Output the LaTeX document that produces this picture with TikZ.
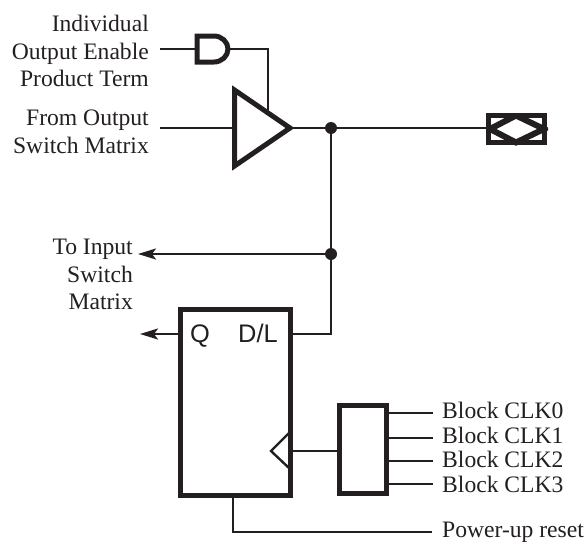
\documentclass[tikz,border=0pt]{standalone}
\usepackage{fontspec}
\setmainfont{Liberation Serif}
\newfontfamily\lblsans{Liberation Sans}
\usetikzlibrary{arrows.meta}
\definecolor{ink}{HTML}{231F20}
\tikzset{
  thick line/.style={line width=5pt,draw=ink,line join=miter,miter limit=10},
  thin line/.style={line width=2.4pt,draw=ink},
  lbl/.style={font=\fontsize{23.6}{27.5}\selectfont,text=ink,inner sep=0pt,align=right,anchor=east},
  lbll/.style={font=\fontsize{23.6}{27.5}\selectfont,text=ink,inner sep=0pt,anchor=base west},
  pin/.style={font=\lblsans\fontsize{25.4}{28}\selectfont,text=ink,inner sep=0pt,anchor=base},
  dotn/.style={circle,fill=ink,inner sep=0pt,minimum size=12pt},
  box/.style={thick line,rectangle,inner sep=0pt,outer sep=0pt},
  tipped/.style={-{Stealth[length=18pt,width=11pt,inset=4pt]}}
}
\begin{document}
\begin{tikzpicture}[x=1pt,y=-1pt]
\useasboundingbox (0,0) rectangle (588,541);
% labels
\node[lbl] (lenable) at (149,51) {Individual\\Output Enable\\Product Term};
\node[lbl] (lfrom) at (149,132) {From Output\\Switch Matrix};
\node[lbl] (lto) at (133,274.5) {To Input\\Switch\\Matrix};
\node[lbll] (c0) at (442,418.5) {Block CLK0};
\node[lbll] (c1) at (442,443) {Block CLK1};
\node[lbll] (c2) at (442,467.5) {Block CLK2};
\node[lbll] (c3) at (442,492) {Block CLK3};
\node[lbll] (pr) at (442,537) {Power-up reset};
% blocks
\node[box,minimum width=110pt,minimum height=186pt] (ff) at (235.5,402.5) {};
\node[box,minimum width=47pt,minimum height=88pt] (mux) at (363,449.5) {};
\node[pin] (q) at (200,342) {Q};
\node[pin] (dl) at (258,342) {D/L};
\node[dotn] (j1) at (331,128) {};
\node[dotn] (j2) at (331,254) {};
% named points
\coordinate (c0e) at (433,413);
\coordinate (c1e) at (433,438);
\coordinate (c2e) at (433,461);
\coordinate (c3e) at (433,484);
\coordinate (pre) at (432,532);
\coordinate (prb) at (233,532);
\coordinate (inA) at (160,49);
\coordinate (inB) at (160,128);
\coordinate (toin) at (138,254);
\coordinate (qo) at (140,334);
\coordinate (andin) at (197,49);
\coordinate (andout) at (228,49);
\coordinate (bufin) at (234.5,128);
\coordinate (bufout) at (290,128);
\coordinate (bufen) at (268,110);
\coordinate (pad) at (488,128);
% and gate
\draw[thick line] (197,36) -- (214,36) .. controls (221.5,36) and (228,41.8) .. (228,49) .. controls (228,56.2) and (221.5,62) .. (214,62) -- (197,62) -- cycle;
\draw[thin line] (inA) -- (andin);
\draw[thin line] (andout) -| (bufen);
% buffer
\draw[thin line] (inB) -- (bufin);
\draw[thin line] (bufout) -- (pad);
\draw[thick line] (234.5,90) -- (290,128) -- (234.5,166) -- cycle;
% pad
\draw[thick line] (488.5,115.5) rectangle (544.5,142.5);
\begin{scope}
\clip (486,113) rectangle (548,145);
\draw[thick line,line width=6pt] (490,129) -- (516,115.5) -- (544,129) -- (516,142.5) -- cycle;
\end{scope}
% vertical and feedback
\draw[thin line] (j1) -- (j2);
\draw[thin line,tipped] (j2) -- (toin);
\draw[thin line] (j2) |- (291,334);
\draw[thin line,tipped] (180.5,334) -- (qo);
% clock
\draw[thin line] (289,433) -- (271,451) -- (289,468);
\draw[thin line] (291,451) -- (mux.west |- 0,451);
\draw[thin line] (386,413) -- (c0e);
\draw[thin line] (386,438) -- (c1e);
\draw[thin line] (386,461) -- (c2e);
\draw[thin line] (386,484) -- (c3e);
% reset
\draw[thin line] (233,495) -- (prb) -- (pre);
\end{tikzpicture}
\end{document}
